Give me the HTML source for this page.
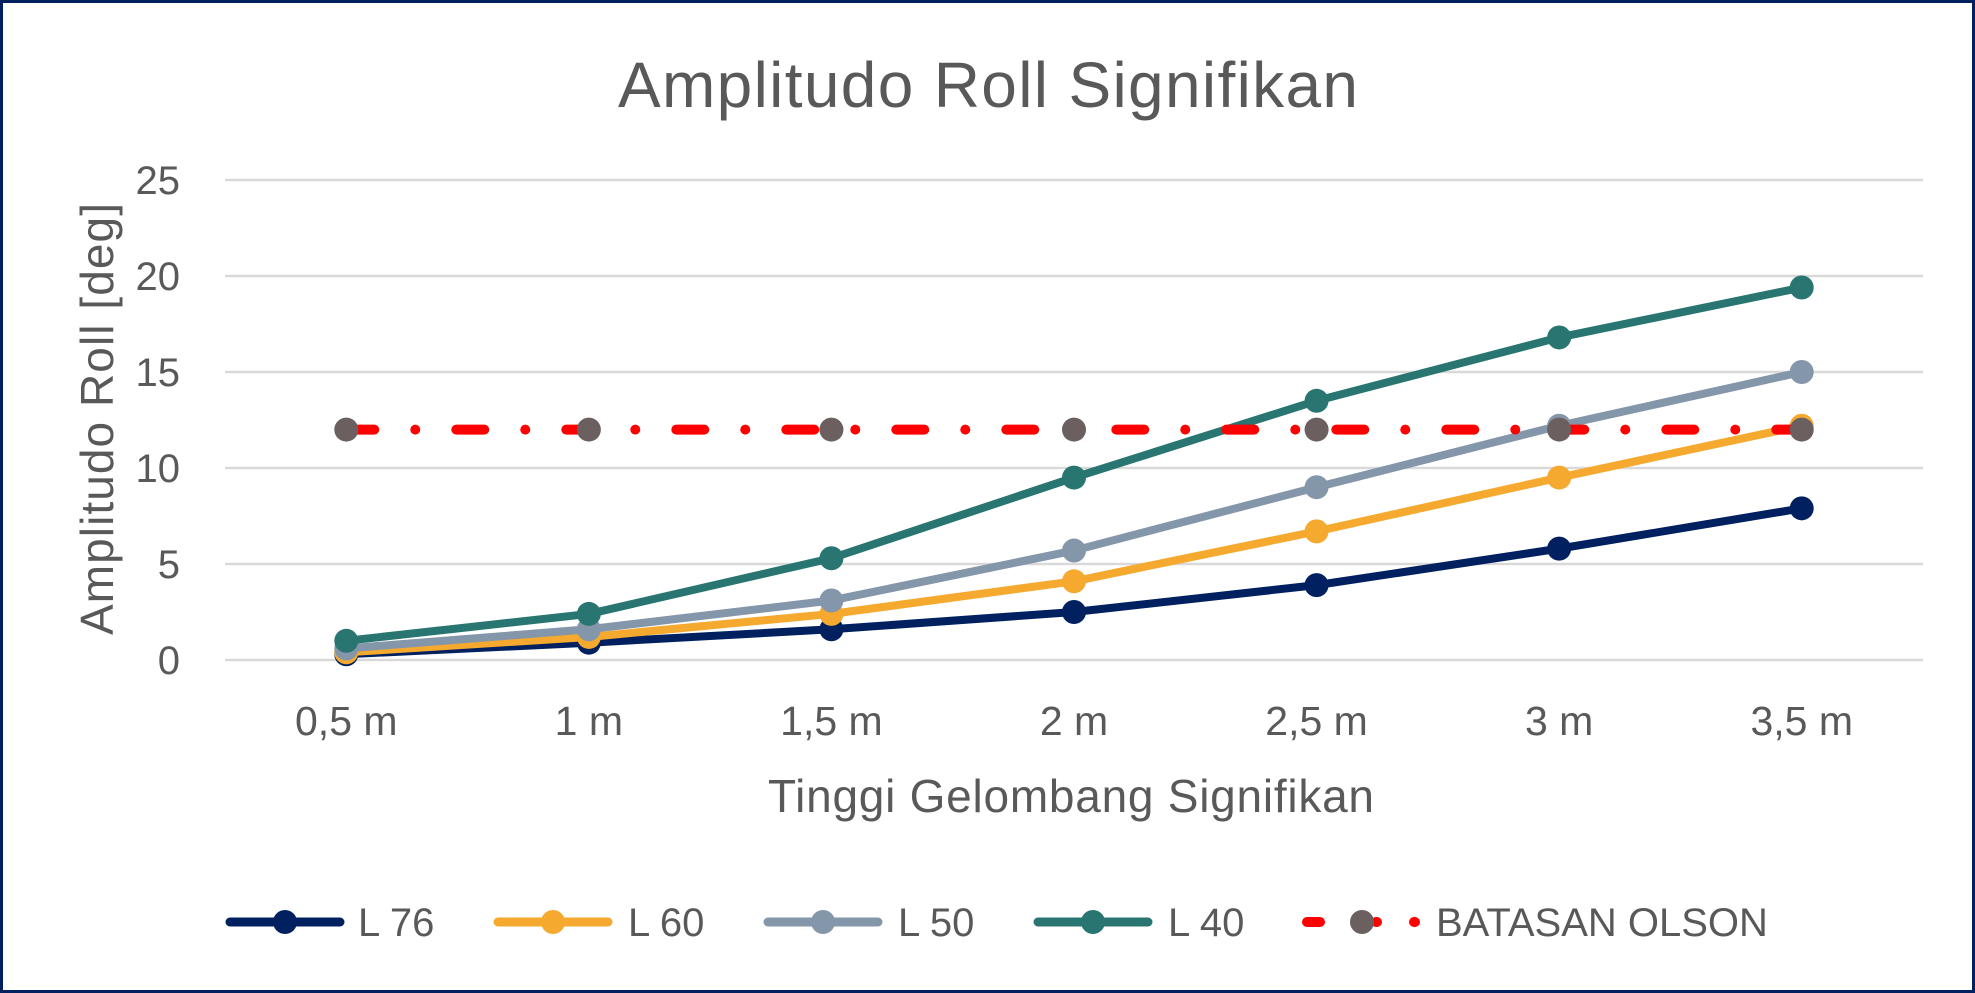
<!DOCTYPE html>
<html><head><meta charset="utf-8"><style>
html,body{margin:0;padding:0;background:#fff;}
svg{display:block;font-family:"Liberation Sans",sans-serif;}
</style></head><body>
<svg id="chart" width="1975" height="993" viewBox="0 0 1975 993">
<rect x="1.5" y="1.5" width="1972" height="990" fill="#fff" stroke="#002060" stroke-width="3"/>
<text x="988" y="107" font-size="64" fill="#595959" text-anchor="middle" textLength="740">Amplitudo Roll Signifikan</text>
<g id="grid"></g>
<g id="yticks"></g>
<g id="xticks"></g>
<text transform="translate(113,419) rotate(-90)" font-size="46" fill="#595959" text-anchor="middle" textLength="432">Amplitudo Roll [deg]</text>
<text x="1071" y="812" font-size="46" fill="#595959" text-anchor="middle" textLength="606">Tinggi Gelombang Signifikan</text>
<g id="series"></g>
<g id="legend"></g>
</svg>
<script>
const categories = ["0,5 m","1 m","1,5 m","2 m","2,5 m","3 m","3,5 m"];
const yTicks = [0,5,10,15,20,25];
const l76 = [0.3,0.9,1.6,2.5,3.9,5.8,7.9];
const l60 = [0.4,1.2,2.4,4.1,6.7,9.5,12.2];
const l50 = [0.6,1.6,3.1,5.7,9.0,12.2,15.0];
const l40 = [1.0,2.4,5.3,9.5,13.5,16.8,19.4];
const olson = [12,12,12,12,12,12,12];
const seriesNames = ["L 76","L 60","L 50","L 40","BATASAN OLSON"];

const NS="http://www.w3.org/2000/svg";
const plotL=225, plotR=1923, yTop=180, yBot=660, yMax=25;
const band=(plotR-plotL)/categories.length;
function xs(i){return plotL+band*(i+0.5);}
function ys(v){return yBot-(v/yMax)*(yBot-yTop);}
function mk(tag,attrs,parent){const e=document.createElementNS(NS,tag);for(const k in attrs)e.setAttribute(k,attrs[k]);parent.appendChild(e);return e;}
const grid=document.getElementById('grid'), yt=document.getElementById('yticks'), xt=document.getElementById('xticks');
yTicks.forEach(v=>{
  const l=mk('line',{x1:plotL,x2:plotR,y1:ys(v),y2:ys(v),stroke:'#d9d9d9','stroke-width':2.5},grid);
  
  
  const t=mk('text',{x:180,y:ys(v)+14,'font-size':40,fill:'#595959','text-anchor':'end'},yt);
  t.textContent=v;
  
  
});
categories.forEach((c,i)=>{
  const t=mk('text',{x:xs(i),y:735,'font-size':41,fill:'#595959','text-anchor':'middle'},xt);
  t.textContent=c;
  
  
});
const sg=document.getElementById('series');
const defs=[
  {d:l76,c:'#002060',m:'#002060',n:'l76'},
  {d:l60,c:'#f5a92e',m:'#f5a92e',n:'l60'},
  {d:l50,c:'#8496a9',m:'#8496a9',n:'l50'},
  {d:l40,c:'#297571',m:'#297571',n:'l40'}
];
function drawSeries(s){
  const g=mk('g',{},sg);
  
  
  const pts=s.d.map((v,i)=>xs(i)+','+ys(v)).join(' ');
  const attrs={points:pts,fill:'none',stroke:s.c,'stroke-width':s.dash?10:8,'stroke-linejoin':'round','stroke-linecap':'round'};
  if(s.dash){attrs['stroke-dasharray']='28 41 0 41';}
  mk('polyline',attrs,g);
  s.d.forEach((v,i)=>{
    const p=mk('circle',{cx:xs(i),cy:ys(v),r:12,fill:s.m},g);
    
    
  });
}
defs.forEach(drawSeries);
drawSeries({d:olson,c:'#ff0000',m:'#6b5f5f',n:'olson',dash:true});

const lg=document.getElementById('legend');
const leg=[
  {x:225,c:'#002060',m:'#002060',tx:358},
  {x:493,c:'#f5a92e',m:'#f5a92e',tx:628},
  {x:763,c:'#8496a9',m:'#8496a9',tx:898},
  {x:1033,c:'#297571',m:'#297571',tx:1168},
  {x:1302,c:'#ff0000',m:'#6b5f5f',tx:1436,dash:true}
];
leg.forEach((e,i)=>{
  const g=mk('g',{},lg);
  
  
  if(e.dash){
    mk('line',{x1:1307,x2:1320,y1:922,y2:922,stroke:e.c,'stroke-width':10,'stroke-linecap':'round'},g);
    mk('line',{x1:1376,x2:1377,y1:922,y2:922,stroke:e.c,'stroke-width':10,'stroke-linecap':'round'},g);
    mk('line',{x1:1414,x2:1415,y1:922,y2:922,stroke:e.c,'stroke-width':10,'stroke-linecap':'round'},g);
  } else {
    mk('line',{x1:e.x+5,x2:e.x+115,y1:922,y2:922,stroke:e.c,'stroke-width':9,'stroke-linecap':'round'},g);
  }
  mk('circle',{cx:e.x+60,cy:922,r:12,fill:e.m},g);
  const t=mk('text',{x:e.tx,y:936,'font-size':40,fill:'#595959'},g);
  t.textContent=seriesNames[i];
});
</script>
</body></html>
